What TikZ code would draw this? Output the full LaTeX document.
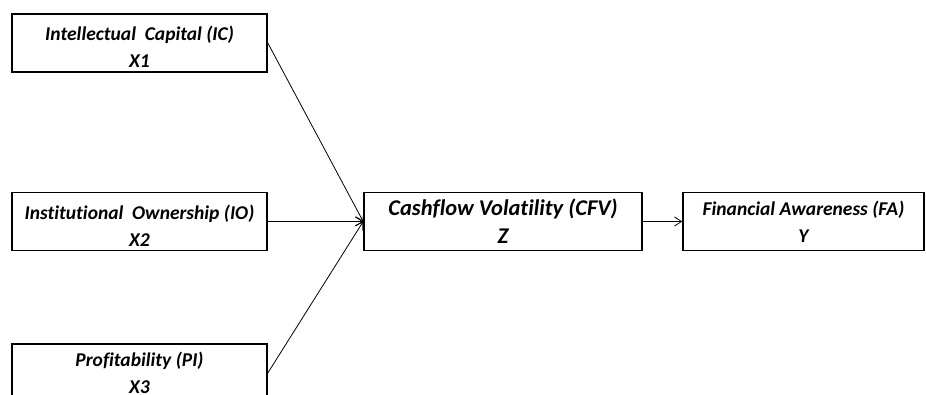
\documentclass[tikz,border=0pt]{standalone}
\usepackage{fontspec}
\setmainfont[Ligatures={NoCommon}]{Carlito}
\usetikzlibrary{arrows.meta}
\begin{document}
\begin{tikzpicture}[x=1pt,y=-1pt,
  varbox/.style={draw=black, line width=1.6pt, fill=white, rectangle, inner sep=0pt,
    minimum height=58pt, align=center, font=\fontsize{19.5}{27}\selectfont\bfseries\itshape},
  link/.style={line width=0.8pt, -{Straight Barb[length=7pt,width=9pt]}}]
\useasboundingbox (0,0) rectangle (926,394);
\node[varbox, minimum width=255pt] (x1) at (139.5,43) {\rule{0pt}{22pt}Intellectual~ Capital (IC)\\X1};
\node[varbox, minimum width=255pt] (x2) at (139.5,221.5) {\rule{0pt}{22pt}Institutional~ Ownership (IO)\\X2};
\node[varbox, minimum width=255pt] (x3) at (139.5,373) {Profitability (PI)\\X3};
\node[varbox, minimum width=278pt, font=\fontsize{22.5}{28}\selectfont\bfseries\itshape] (z) at (503,221.5) {Cashflow Volatility (CFV)\\Z};
\node[varbox, minimum width=241pt] (y) at (803.5,221.5) {Financial Awareness (FA)\\Y};
\draw[link] (x1.east) -- (z.west);
\draw[link] (x2.east) -- (z.west);
\draw[link] (x3.east) -- (z.west);
\draw[link] (z.east) -- (y.west);
\end{tikzpicture}
\end{document}
